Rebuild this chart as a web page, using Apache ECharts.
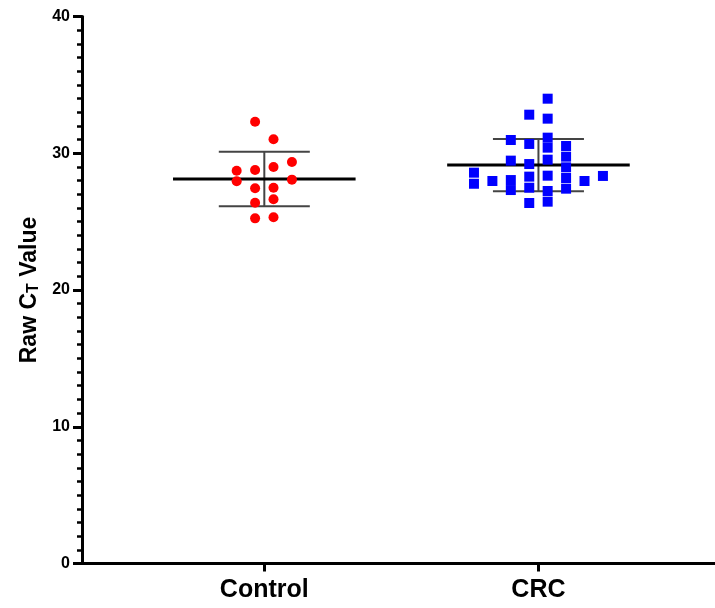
<!DOCTYPE html>
<html>
<head>
<meta charset="utf-8">
<script src="https://cdn.jsdelivr.net/npm/echarts@6/dist/echarts.min.js"></script>
<style>
  html, body { margin: 0; padding: 0; background: #fff; }
  #chart { width: 715px; height: 608px; }
</style>
</head>
<body>
<div id="chart"></div>
<script>
// groups on the x axis
var groups = ['Control', 'CRC'];
var yTicks = [0, 10, 20, 30, 40];

// raw Ct values, with the jitter column each dot sits in
var controlValues = [32.31, 31.02, 28.72, 28.78, 28.99, 29.36, 27.95, 28.07, 27.44, 27.48, 26.63, 26.38, 25.24, 25.32];
var controlCols   = [-0.5,  0.5,  -1.5,  -0.5,   0.5,   1.5,  -1.5,   1.5,  -0.5,   0.5,   0.5,  -0.5,  -0.5,   0.5];

var crcValues = [28.58, 27.77,
                 27.97,
                 30.97, 29.46, 28.04, 27.31,
                 32.82, 30.68, 29.21, 28.29, 27.48, 26.36,
                 33.99, 32.53, 31.14, 30.41, 29.53, 28.36, 27.24, 26.46,
                 30.53, 29.75, 28.97, 28.19, 27.41,
                 27.97,
                 28.34];
var crcCols = [-3.5, -3.5,
               -2.5,
               -1.5, -1.5, -1.5, -1.5,
               -0.5, -0.5, -0.5, -0.5, -0.5, -0.5,
                0.5,  0.5,  0.5,  0.5,  0.5,  0.5,  0.5,  0.5,
                1.5,  1.5,  1.5,  1.5,  1.5,
                2.5,
                3.5];

var colStep = 0.0672;

function toPoints(vals, cols, gx) {
  return vals.map(function (v, i) { return [gx + cols[i] * colStep, v]; });
}
function meanSd(vals) {
  var m = vals.reduce(function (a, b) { return a + b; }, 0) / vals.length;
  var ss = vals.reduce(function (a, b) { return a + (b - m) * (b - m); }, 0);
  return [m, Math.sqrt(ss / (vals.length - 1))];
}
var cs = meanSd(controlValues), rs = meanSd(crcValues);
var stats = [[1, cs[0], cs[1]], [2, rs[0], rs[1]]];

var font = "'Liberation Sans', Arial, sans-serif";

var chart = echarts.init(document.getElementById('chart'));
chart.setOption({
  backgroundColor: '#ffffff',
  animation: false,
  grid: { left: 82, right: 0, top: 16.5, bottom: 44.5 },
  xAxis: {
    type: 'value',
    min: 0.335,
    max: 2.644,
    splitLine: { show: false },
    axisLine: { show: true, lineStyle: { color: '#000', width: 3 } },
    axisTick: { show: true, length: 8, customValues: [1, 2], lineStyle: { color: '#000', width: 3 } },
    axisLabel: {
      customValues: [1, 2],
      margin: 14,
      color: '#000',
      fontFamily: font,
      fontWeight: 'bold',
      fontSize: 25,
      formatter: function (v) { return groups[Math.round(v) - 1] || ''; }
    }
  },
  yAxis: {
    type: 'value',
    min: yTicks[0],
    max: yTicks[yTicks.length - 1],
    interval: 10,
    splitLine: { show: false },
    axisLine: { show: true, lineStyle: { color: '#000', width: 3 } },
    axisTick: { show: true, length: 9, lineStyle: { color: '#000', width: 3 } },
    minorTick: { show: true, splitNumber: 10, length: 5, lineStyle: { color: '#000', width: 2.5 } },
    axisLabel: { margin: 12, color: '#000', fontFamily: font, fontWeight: 'bold', fontSize: 16 },
    name: '{a|Raw C}{s|T}{a| Value}',
    nameLocation: 'middle',
    nameGap: 39,
    nameTextStyle: {
      rich: {
        a: { fontFamily: font, fontWeight: 'bold', fontSize: 23, color: '#000' },
        s: { fontFamily: font, fontWeight: 'bold', fontSize: 16, color: '#000', verticalAlign: 'bottom', padding: [8, 0, 0, 0] }
      }
    }
  },
  series: [
    {
      type: 'custom',
      z: 1,
      data: stats,
      renderItem: function (params, api) {
        var gx = api.value(0), m = api.value(1), sd = api.value(2);
        var mL = api.coord([gx - 0.333, m]), mR = api.coord([gx + 0.333, m]);
        var top = api.coord([gx, m + sd]), bot = api.coord([gx, m - sd]);
        var cL1 = api.coord([gx - 0.166, m + sd]), cR1 = api.coord([gx + 0.166, m + sd]);
        var cL2 = api.coord([gx - 0.166, m - sd]), cR2 = api.coord([gx + 0.166, m - sd]);
        var sdStyle = { stroke: '#444', lineWidth: 2 };
        return {
          type: 'group',
          children: [
            { type: 'line', shape: { x1: top[0], y1: top[1], x2: bot[0], y2: bot[1] }, style: sdStyle },
            { type: 'line', shape: { x1: cL1[0], y1: cL1[1], x2: cR1[0], y2: cR1[1] }, style: sdStyle },
            { type: 'line', shape: { x1: cL2[0], y1: cL2[1], x2: cR2[0], y2: cR2[1] }, style: sdStyle },
            { type: 'line', shape: { x1: mL[0], y1: mL[1], x2: mR[0], y2: mR[1] }, style: { stroke: '#000', lineWidth: 3 } }
          ]
        };
      }
    },
    {
      name: 'Control',
      type: 'scatter',
      z: 3,
      symbol: 'circle',
      symbolSize: 10,
      itemStyle: { color: '#ff0000', opacity: 1 },
      data: toPoints(controlValues, controlCols, 1)
    },
    {
      name: 'CRC',
      type: 'scatter',
      z: 3,
      symbol: 'rect',
      symbolSize: 10,
      itemStyle: { color: '#0000ff', opacity: 1 },
      data: toPoints(crcValues, crcCols, 2)
    }
  ]
});
</script>
</body>
</html>
